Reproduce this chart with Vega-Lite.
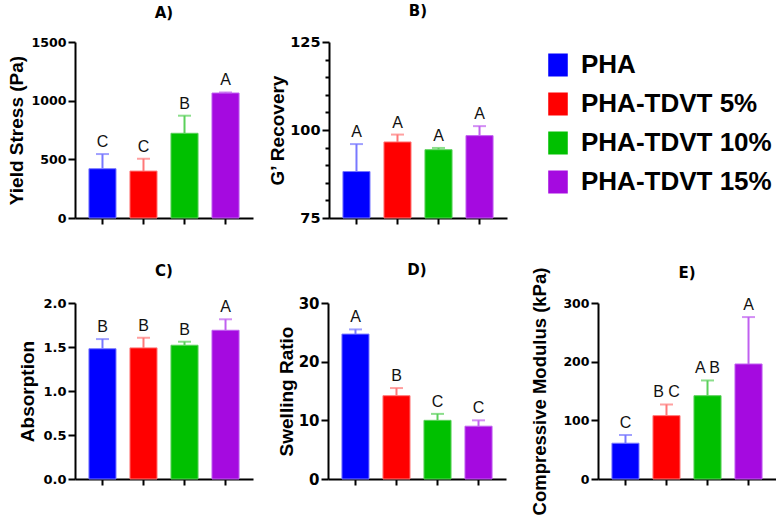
{
  "$schema": "https://vega.github.io/schema/vega-lite/v6.json",
  "background": "white",
  "padding": {"left": 7, "top": 4, "right": 0, "bottom": 0},
  "autosize": {"type": "pad"},
  "config": {
    "view": {"stroke": null},
    "axisX": {"labels": false, "title": null, "domainWidth": 2, "domainColor": "black", "tickColor": "black", "tickWidth": 2, "tickSize": 6, "grid": false},
    "axisY": {"domainWidth": 2, "domainColor": "black", "tickColor": "black", "tickWidth": 2, "tickSize": 7, "grid": false, "labelOverlap": false,
      "labelFont": "DejaVu Sans", "labelFontWeight": "bold", "labelFontSize": 13, "labelColor": "black", "labelPadding": 2,
      "titleFont": "Liberation Sans", "titleFontSize": 19, "titleFontWeight": "bold", "titleColor": "black"},
    "title": {"font": "DejaVu Sans", "fontSize": 15, "fontWeight": "bold", "color": "black", "anchor": "middle", "frame": "group", "baseline": "alphabetic"}
  },
  "datasets": {
    "d": [
      {"panel": "A", "group": "PHA", "mean": 420, "upper": 545, "letter": "C"},
      {"panel": "A", "group": "PHA-TDVT 5%", "mean": 400, "upper": 505, "letter": "C"},
      {"panel": "A", "group": "PHA-TDVT 10%", "mean": 722, "upper": 872, "letter": "B"},
      {"panel": "A", "group": "PHA-TDVT 15%", "mean": 1065, "upper": 1070, "letter": "A"},
      {"panel": "B", "group": "PHA", "mean": 88.2, "upper": 96.0, "letter": "A"},
      {"panel": "B", "group": "PHA-TDVT 5%", "mean": 96.6, "upper": 98.7, "letter": "A"},
      {"panel": "B", "group": "PHA-TDVT 10%", "mean": 94.4, "upper": 94.9, "letter": "A"},
      {"panel": "B", "group": "PHA-TDVT 15%", "mean": 98.4, "upper": 101.1, "letter": "A"},
      {"panel": "C", "group": "PHA", "mean": 1.48, "upper": 1.59, "letter": "B"},
      {"panel": "C", "group": "PHA-TDVT 5%", "mean": 1.49, "upper": 1.605, "letter": "B"},
      {"panel": "C", "group": "PHA-TDVT 10%", "mean": 1.52, "upper": 1.56, "letter": "B"},
      {"panel": "C", "group": "PHA-TDVT 15%", "mean": 1.69, "upper": 1.815, "letter": "A"},
      {"panel": "D", "group": "PHA", "mean": 24.7, "upper": 25.5, "letter": "A"},
      {"panel": "D", "group": "PHA-TDVT 5%", "mean": 14.2, "upper": 15.5, "letter": "B"},
      {"panel": "D", "group": "PHA-TDVT 10%", "mean": 10.0, "upper": 11.1, "letter": "C"},
      {"panel": "D", "group": "PHA-TDVT 15%", "mean": 9.0, "upper": 10.0, "letter": "C"},
      {"panel": "E", "group": "PHA", "mean": 61, "upper": 75, "letter": "C"},
      {"panel": "E", "group": "PHA-TDVT 5%", "mean": 108, "upper": 127, "letter": "B C"},
      {"panel": "E", "group": "PHA-TDVT 10%", "mean": 142, "upper": 168, "letter": "A B"},
      {"panel": "E", "group": "PHA-TDVT 15%", "mean": 196, "upper": 276, "letter": "A"}
    ]
  },
  "resolve": {"scale": {"color": "independent", "fill": "independent", "stroke": "independent"}, "legend": {"color": "independent", "fill": "independent", "stroke": "independent"}},
  "spacing": 38,
  "vconcat": [
    {
      "spacing": 15,
      "resolve": {"scale": {"color": "independent", "fill": "independent", "stroke": "independent"}, "legend": {"color": "independent", "fill": "independent", "stroke": "independent"}},
      "hconcat": [
        {
          "width": 178, "height": 176,
          "title": {"text": "A)", "offset": 15},
          "data": {"name": "d"},
          "transform": [{"filter": "datum.panel === 'A'"}],
          "encoding": {"x": {"field": "group", "type": "nominal", "sort": ["PHA", "PHA-TDVT 5%", "PHA-TDVT 10%", "PHA-TDVT 15%"], "scale": {"paddingInner": 0.34, "paddingOuter": 0.34}}},
          "layer": [
            {"mark": {"type": "bar", "strokeWidth": 1},
             "encoding": {
               "y": {"field": "mean", "type": "quantitative", "scale": {"domain": [0, 1500], "nice": false}, "axis": {"values": [0, 500, 1000, 1500], "format": "d", "title": "Yield Stress (Pa)", "titlePadding": 4, "labelFontSize": 12.6}},
               "fill": {"field": "group", "type": "nominal", "scale": {"domain": ["PHA", "PHA-TDVT 5%", "PHA-TDVT 10%", "PHA-TDVT 15%"], "range": ["#0000ff", "#ff0000", "#00c000", "#a50ae0"]}, "legend": null},
               "stroke": {"field": "group", "type": "nominal", "scale": {"domain": ["PHA", "PHA-TDVT 5%", "PHA-TDVT 10%", "PHA-TDVT 15%"], "range": ["#7878ff", "#ff7878", "#5ad05a", "#c060f0"]}, "legend": null}
             }},
            {"mark": {"type": "rule", "strokeWidth": 2},
             "encoding": {"y": {"field": "mean", "type": "quantitative"}, "y2": {"field": "upper"},
               "stroke": {"field": "group", "type": "nominal", "legend": null}}},
            {"mark": {"type": "tick", "thickness": 2, "size": 13},
             "encoding": {"y": {"field": "upper", "type": "quantitative"},
               "color": {"field": "group", "type": "nominal", "scale": {"domain": ["PHA", "PHA-TDVT 5%", "PHA-TDVT 10%", "PHA-TDVT 15%"], "range": ["#7878ff", "#ff7878", "#5ad05a", "#c060f0"]}, "legend": null}}},
            {"mark": {"type": "text", "dy": -7, "baseline": "alphabetic", "font": "Liberation Sans", "fontSize": 16, "color": "#111"},
             "encoding": {"y": {"field": "upper", "type": "quantitative"}, "text": {"field": "letter"}}}
          ]
        },
        {
          "width": 178, "height": 176,
          "title": {"text": "B)", "offset": 15},
          "data": {"name": "d"},
          "transform": [{"filter": "datum.panel === 'B'"}],
          "encoding": {"x": {"field": "group", "type": "nominal", "sort": ["PHA", "PHA-TDVT 5%", "PHA-TDVT 10%", "PHA-TDVT 15%"], "scale": {"paddingInner": 0.34, "paddingOuter": 0.34}}},
          "resolve": {"axis": {"y": "independent"}},
          "layer": [
            {"mark": {"type": "bar", "strokeWidth": 1},
             "encoding": {
               "y": {"field": "mean", "type": "quantitative", "scale": {"domain": [75, 125], "nice": false, "zero": false}, "axis": {"orient": "left", "values": [75, 100, 125], "title": "G’ Recovery", "titlePadding": 2, "labelFontSize": 14.5}},
               "y2": {"datum": 75},
               "fill": {"field": "group", "type": "nominal", "scale": {"domain": ["PHA", "PHA-TDVT 5%", "PHA-TDVT 10%", "PHA-TDVT 15%"], "range": ["#0000ff", "#ff0000", "#00c000", "#a50ae0"]}, "legend": null},
               "stroke": {"field": "group", "type": "nominal", "scale": {"domain": ["PHA", "PHA-TDVT 5%", "PHA-TDVT 10%", "PHA-TDVT 15%"], "range": ["#7878ff", "#ff7878", "#5ad05a", "#c060f0"]}, "legend": null}
             }},
            {"mark": {"type": "rule", "strokeWidth": 2},
             "encoding": {"y": {"field": "mean", "type": "quantitative", "axis": {"orient": "left", "values": [80, 85, 90, 95, 105, 110, 115, 120], "labels": false, "domain": false, "tickSize": 4, "title": null}}, "y2": {"field": "upper"},
               "stroke": {"field": "group", "type": "nominal", "legend": null}}},
            {"mark": {"type": "tick", "thickness": 2, "size": 13},
             "encoding": {"y": {"field": "upper", "type": "quantitative", "axis": null},
               "color": {"field": "group", "type": "nominal", "scale": {"domain": ["PHA", "PHA-TDVT 5%", "PHA-TDVT 10%", "PHA-TDVT 15%"], "range": ["#7878ff", "#ff7878", "#5ad05a", "#c060f0"]}, "legend": null}}},
            {"mark": {"type": "text", "dy": -7, "baseline": "alphabetic", "font": "Liberation Sans", "fontSize": 16, "color": "#111"},
             "encoding": {"y": {"field": "upper", "type": "quantitative", "axis": null}, "text": {"field": "letter"}}}
          ]
        },
        {
          "width": 200, "height": 176,
          "data": {"name": "d"},
          "transform": [{"filter": "datum.panel === 'A'"}],
          "mark": {"type": "square", "opacity": 0, "filled": true},
          "encoding": {
            "color": {"field": "group", "type": "nominal", "sort": ["PHA", "PHA-TDVT 5%", "PHA-TDVT 10%", "PHA-TDVT 15%"],
              "scale": {"domain": ["PHA", "PHA-TDVT 5%", "PHA-TDVT 10%", "PHA-TDVT 15%"], "range": ["#0000ff", "#ff0000", "#00c000", "#a50ae0"]},
              "legend": {"orient": "none", "legendX": 23, "legendY": 10, "title": null, "symbolType": "M-0.85,-1H0.85V1H-0.85Z", "symbolSize": 529, "symbolOpacity": 1, "symbolStrokeWidth": 0,
                "labelFont": "Liberation Sans", "labelFontSize": 26, "labelFontWeight": "bold", "labelColor": "black", "labelOffset": 10, "rowPadding": 13, "labelLimit": 400}}
          }
        }
      ]
    },
    {
      "spacing": 24,
      "resolve": {"scale": {"color": "independent", "fill": "independent", "stroke": "independent"}, "legend": {"color": "independent", "fill": "independent", "stroke": "independent"}},
      "hconcat": [
        {
          "width": 178, "height": 176,
          "title": {"text": "C)", "offset": 18},
          "data": {"name": "d"},
          "transform": [{"filter": "datum.panel === 'C'"}],
          "encoding": {"x": {"field": "group", "type": "nominal", "sort": ["PHA", "PHA-TDVT 5%", "PHA-TDVT 10%", "PHA-TDVT 15%"], "scale": {"paddingInner": 0.34, "paddingOuter": 0.34}}},
          "layer": [
            {"mark": {"type": "bar", "strokeWidth": 1},
             "encoding": {
               "y": {"field": "mean", "type": "quantitative", "scale": {"domain": [0, 2], "nice": false}, "axis": {"values": [0, 0.5, 1, 1.5, 2], "format": ".1f", "title": "Absorption", "titlePadding": 5, "labelFontSize": 13}},
               "fill": {"field": "group", "type": "nominal", "scale": {"domain": ["PHA", "PHA-TDVT 5%", "PHA-TDVT 10%", "PHA-TDVT 15%"], "range": ["#0000ff", "#ff0000", "#00c000", "#a50ae0"]}, "legend": null},
               "stroke": {"field": "group", "type": "nominal", "scale": {"domain": ["PHA", "PHA-TDVT 5%", "PHA-TDVT 10%", "PHA-TDVT 15%"], "range": ["#7878ff", "#ff7878", "#5ad05a", "#c060f0"]}, "legend": null}
             }},
            {"mark": {"type": "rule", "strokeWidth": 2},
             "encoding": {"y": {"field": "mean", "type": "quantitative"}, "y2": {"field": "upper"},
               "stroke": {"field": "group", "type": "nominal", "legend": null}}},
            {"mark": {"type": "tick", "thickness": 2, "size": 13},
             "encoding": {"y": {"field": "upper", "type": "quantitative"},
               "color": {"field": "group", "type": "nominal", "scale": {"domain": ["PHA", "PHA-TDVT 5%", "PHA-TDVT 10%", "PHA-TDVT 15%"], "range": ["#7878ff", "#ff7878", "#5ad05a", "#c060f0"]}, "legend": null}}},
            {"mark": {"type": "text", "dy": -7, "baseline": "alphabetic", "font": "Liberation Sans", "fontSize": 16, "color": "#111"},
             "encoding": {"y": {"field": "upper", "type": "quantitative"}, "text": {"field": "letter"}}}
          ]
        },
        {
          "width": 178, "height": 176,
          "title": {"text": "D)", "offset": 18},
          "data": {"name": "d"},
          "transform": [{"filter": "datum.panel === 'D'"}],
          "encoding": {"x": {"field": "group", "type": "nominal", "sort": ["PHA", "PHA-TDVT 5%", "PHA-TDVT 10%", "PHA-TDVT 15%"], "scale": {"paddingInner": 0.34, "paddingOuter": 0.34}}},
          "layer": [
            {"mark": {"type": "bar", "strokeWidth": 1},
             "encoding": {
               "y": {"field": "mean", "type": "quantitative", "scale": {"domain": [0, 30], "nice": false}, "axis": {"values": [0, 10, 20, 30], "title": "Swelling Ratio", "titlePadding": 2, "labelFontSize": 15}},
               "fill": {"field": "group", "type": "nominal", "scale": {"domain": ["PHA", "PHA-TDVT 5%", "PHA-TDVT 10%", "PHA-TDVT 15%"], "range": ["#0000ff", "#ff0000", "#00c000", "#a50ae0"]}, "legend": null},
               "stroke": {"field": "group", "type": "nominal", "scale": {"domain": ["PHA", "PHA-TDVT 5%", "PHA-TDVT 10%", "PHA-TDVT 15%"], "range": ["#7878ff", "#ff7878", "#5ad05a", "#c060f0"]}, "legend": null}
             }},
            {"mark": {"type": "rule", "strokeWidth": 2},
             "encoding": {"y": {"field": "mean", "type": "quantitative"}, "y2": {"field": "upper"},
               "stroke": {"field": "group", "type": "nominal", "legend": null}}},
            {"mark": {"type": "tick", "thickness": 2, "size": 13},
             "encoding": {"y": {"field": "upper", "type": "quantitative"},
               "color": {"field": "group", "type": "nominal", "scale": {"domain": ["PHA", "PHA-TDVT 5%", "PHA-TDVT 10%", "PHA-TDVT 15%"], "range": ["#7878ff", "#ff7878", "#5ad05a", "#c060f0"]}, "legend": null}}},
            {"mark": {"type": "text", "dy": -7, "baseline": "alphabetic", "font": "Liberation Sans", "fontSize": 16, "color": "#111"},
             "encoding": {"y": {"field": "upper", "type": "quantitative"}, "text": {"field": "letter"}}}
          ]
        },
        {
          "width": 178, "height": 176,
          "title": {"text": "E)", "offset": -14},
          "data": {"name": "d"},
          "transform": [{"filter": "datum.panel === 'E'"}],
          "encoding": {"x": {"field": "group", "type": "nominal", "sort": ["PHA", "PHA-TDVT 5%", "PHA-TDVT 10%", "PHA-TDVT 15%"], "scale": {"paddingInner": 0.34, "paddingOuter": 0.34}}},
          "layer": [
            {"mark": {"type": "bar", "strokeWidth": 1},
             "encoding": {
               "y": {"field": "mean", "type": "quantitative", "scale": {"domain": [0, 300], "nice": false}, "axis": {"values": [0, 100, 200, 300], "title": "Compressive Modulus (kPa)", "titlePadding": 13, "titleFontSize": 18.5, "labelFontSize": 12.5}},
               "fill": {"field": "group", "type": "nominal", "scale": {"domain": ["PHA", "PHA-TDVT 5%", "PHA-TDVT 10%", "PHA-TDVT 15%"], "range": ["#0000ff", "#ff0000", "#00c000", "#a50ae0"]}, "legend": null},
               "stroke": {"field": "group", "type": "nominal", "scale": {"domain": ["PHA", "PHA-TDVT 5%", "PHA-TDVT 10%", "PHA-TDVT 15%"], "range": ["#7878ff", "#ff7878", "#5ad05a", "#c060f0"]}, "legend": null}
             }},
            {"mark": {"type": "rule", "strokeWidth": 2},
             "encoding": {"y": {"field": "mean", "type": "quantitative"}, "y2": {"field": "upper"},
               "stroke": {"field": "group", "type": "nominal", "legend": null}}},
            {"mark": {"type": "tick", "thickness": 2, "size": 13},
             "encoding": {"y": {"field": "upper", "type": "quantitative"},
               "color": {"field": "group", "type": "nominal", "scale": {"domain": ["PHA", "PHA-TDVT 5%", "PHA-TDVT 10%", "PHA-TDVT 15%"], "range": ["#7878ff", "#ff7878", "#5ad05a", "#c060f0"]}, "legend": null}}},
            {"mark": {"type": "text", "dy": -7, "baseline": "alphabetic", "font": "Liberation Sans", "fontSize": 16, "color": "#111"},
             "encoding": {"y": {"field": "upper", "type": "quantitative"}, "text": {"field": "letter"}}}
          ]
        }
      ]
    }
  ]
}
